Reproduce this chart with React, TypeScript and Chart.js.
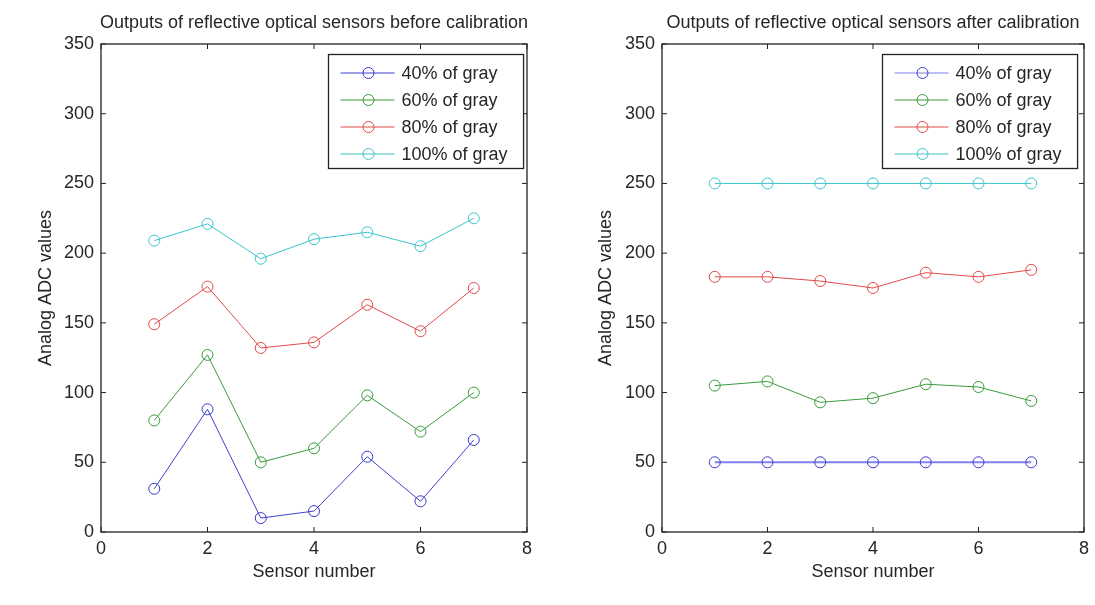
import React, { useEffect, useRef } from "react";
import { Chart, registerables } from "chart.js";

Chart.register(...registerables);

// ---------- data ----------
const sensorNumbers = [1, 2, 3, 4, 5, 6, 7];
const seriesLabels = ["40% of gray", "60% of gray", "80% of gray", "100% of gray"];

const before40 = [31, 88, 10, 15, 54, 22, 66];
const before60 = [80, 127, 50, 60, 98, 72, 100];
const before80 = [149, 176, 132, 136, 163, 144, 175];
const before100 = [209, 221, 196, 210, 215, 205, 225];

const after40 = [50, 50, 50, 50, 50, 50, 50];
const after60 = [105, 108, 93, 96, 106, 104, 94];
const after80 = [183, 183, 180, 175, 186, 183, 188];
const after100 = [250, 250, 250, 250, 250, 250, 250];

const xTickValues = [0, 2, 4, 6, 8];
const yTickValues = [0, 50, 100, 150, 200, 250, 300, 350];

const titleBefore = "Outputs of reflective optical sensors before calibration";
const titleAfter = "Outputs of reflective optical sensors after calibration";
const xAxisTitle = "Sensor number";
const yAxisTitle = "Analog ADC values";

// ---------- styles ----------
const FONT = "'Liberation Sans', Arial, Helvetica, sans-serif";
const FONT_SIZE = 18;
const TEXT_COLOR = "#262626";
const AXIS_COLOR = "#222222";
const lineColors = ["#4040d0", "#3a9a3a", "#e04a4a", "#3cc4cc"];
const pointColors = ["#3a3ac8", "#3a9a3a", "#e04a4a", "#3cc4cc"];

const CANVAS_H = 605;
const AREA_TOP = 44;
const AREA_BOTTOM = 532;

type Panel = {
  left: number;
  width: number;
  areaLeft: number;
  areaRight: number;
  legendInset: number;
  title: string;
  series: number[][];
  lineWidths: number[];
  lineColorsOverride?: string[];
};

const panels: Panel[] = [
  {
    left: 0,
    width: 560,
    areaLeft: 101,
    areaRight: 527,
    legendInset: 4,
    title: titleBefore,
    series: [before40, before60, before80, before100],
    lineWidths: [1, 1, 1, 1],
  },
  {
    left: 560,
    width: 535,
    areaLeft: 102,
    areaRight: 528,
    legendInset: 7,
    title: titleAfter,
    series: [after40, after60, after80, after100],
    lineWidths: [2, 1, 1, 1],
    lineColorsOverride: ["#8080ee", lineColors[1], lineColors[2], lineColors[3]],
  },
];

function makeDecorPlugin(panel: Panel) {
  return {
    id: "matlabDecor",
    afterDatasetsDraw(chart: any) {
      const { ctx, chartArea: a, scales } = chart;
      const xs = scales.x;
      const ys = scales.y;
      ctx.save();

      // frame
      ctx.strokeStyle = AXIS_COLOR;
      ctx.lineWidth = 1.3;
      ctx.strokeRect(a.left, a.top, a.right - a.left, a.bottom - a.top);

      // inward ticks on all four sides
      const tl = 5;
      ctx.lineWidth = 1;
      ctx.beginPath();
      xTickValues.forEach((v) => {
        const px = xs.getPixelForValue(v);
        ctx.moveTo(px, a.bottom);
        ctx.lineTo(px, a.bottom - tl);
        ctx.moveTo(px, a.top);
        ctx.lineTo(px, a.top + tl);
      });
      yTickValues.forEach((v) => {
        const py = ys.getPixelForValue(v);
        ctx.moveTo(a.left, py);
        ctx.lineTo(a.left + tl, py);
        ctx.moveTo(a.right, py);
        ctx.lineTo(a.right - tl, py);
      });
      ctx.stroke();

      // title
      ctx.fillStyle = TEXT_COLOR;
      ctx.font = `${FONT_SIZE}px ${FONT}`;
      ctx.textAlign = "center";
      ctx.textBaseline = "middle";
      ctx.fillText(panel.title, (a.left + a.right) / 2, 23);

      // legend
      const datasets = chart.data.datasets;
      ctx.font = `${FONT_SIZE}px ${FONT}`;
      let maxW = 0;
      datasets.forEach((d: any) => {
        maxW = Math.max(maxW, ctx.measureText(d.label).width);
      });
      const boxW = 12 + 54 + 7 + maxW + 16;
      const rowH = 27;
      const boxH = 114;
      const bx = Math.round(a.right - panel.legendInset - boxW) + 0.5;
      const by = a.top + 10.5;
      ctx.fillStyle = "#ffffff";
      ctx.fillRect(bx, by, boxW, boxH);
      ctx.strokeStyle = AXIS_COLOR;
      ctx.lineWidth = 1.3;
      ctx.strokeRect(bx, by, boxW, boxH);
      datasets.forEach((d: any, i: number) => {
        const cy = by + 18.5 + i * rowH;
        ctx.strokeStyle = d.borderColor;
        ctx.lineWidth = 1;
        ctx.beginPath();
        ctx.moveTo(bx + 12, cy);
        ctx.lineTo(bx + 66, cy);
        ctx.stroke();
        ctx.strokeStyle = d.pointBorderColor;
        ctx.beginPath();
        ctx.arc(bx + 40, cy, 5.5, 0, Math.PI * 2);
        ctx.stroke();
        ctx.fillStyle = TEXT_COLOR;
        ctx.textAlign = "left";
        ctx.textBaseline = "middle";
        ctx.fillText(d.label, bx + 73, cy + 1);
      });
      ctx.restore();
    },
  };
}

function ChartPanel({ panel }: { panel: Panel }) {
  const ref = useRef<HTMLCanvasElement | null>(null);
  useEffect(() => {
    if (!ref.current) return;
    const colors = panel.lineColorsOverride || lineColors;
    const font = { family: FONT, size: FONT_SIZE };
    const chart = new Chart(ref.current, {
      type: "line",
      data: {
        datasets: panel.series.map((vals, i) => ({
          label: seriesLabels[i],
          data: sensorNumbers.map((x, j) => ({ x, y: vals[j] })),
          borderColor: colors[i],
          borderWidth: panel.lineWidths[i],
          pointBorderColor: pointColors[i],
          pointBackgroundColor: "rgba(0,0,0,0)",
          pointRadius: 5.5,
          pointBorderWidth: 1,
          tension: 0,
          fill: false,
        })),
      },
      options: {
        responsive: false,
        animation: false,
        events: [],
        layout: {
          padding: {
            top: AREA_TOP,
            left: 0,
            right: panel.width - panel.areaRight,
            bottom: 0,
          },
        },
        plugins: {
          legend: { display: false },
          title: { display: false },
          tooltip: { enabled: false },
        },
        scales: {
          x: {
            type: "linear",
            min: 0,
            max: 8,
            afterBuildTicks: (s: any) => {
              s.ticks = xTickValues.map((v) => ({ value: v }));
            },
            afterFit: (s: any) => {
              s.height = CANVAS_H - AREA_BOTTOM;
            },
            ticks: { padding: 6, color: TEXT_COLOR, font, maxRotation: 0 },
            grid: { display: false, drawTicks: false },
            border: { display: false },
            title: {
              display: true,
              text: xAxisTitle,
              color: TEXT_COLOR,
              font,
              padding: { top: 0, bottom: 22 },
            },
          },
          y: {
            type: "linear",
            min: 0,
            max: 350,
            afterBuildTicks: (s: any) => {
              s.ticks = yTickValues.map((v) => ({ value: v }));
            },
            afterFit: (s: any) => {
              s.width = panel.areaLeft;
            },
            ticks: { padding: 7, color: TEXT_COLOR, font },
            grid: { display: false, drawTicks: false },
            border: { display: false },
            title: {
              display: true,
              text: yAxisTitle,
              color: TEXT_COLOR,
              font,
              padding: { top: 35, bottom: 0 },
            },
          },
        },
      },
      plugins: [makeDecorPlugin(panel)],
    } as any);
    return () => chart.destroy();
  }, [panel]);
  return (
    <canvas
      ref={ref}
      width={panel.width}
      height={CANVAS_H}
      style={{
        position: "absolute",
        left: panel.left,
        top: 0,
        width: panel.width,
        height: CANVAS_H,
      }}
    />
  );
}

export default function App() {
  return (
    <div
      style={{
        position: "absolute",
        left: 0,
        top: 0,
        width: 1095,
        height: CANVAS_H,
        background: "#ffffff",
        overflow: "hidden",
      }}
    >
      {panels.map((p, i) => (
        <ChartPanel key={i} panel={p} />
      ))}
    </div>
  );
}
